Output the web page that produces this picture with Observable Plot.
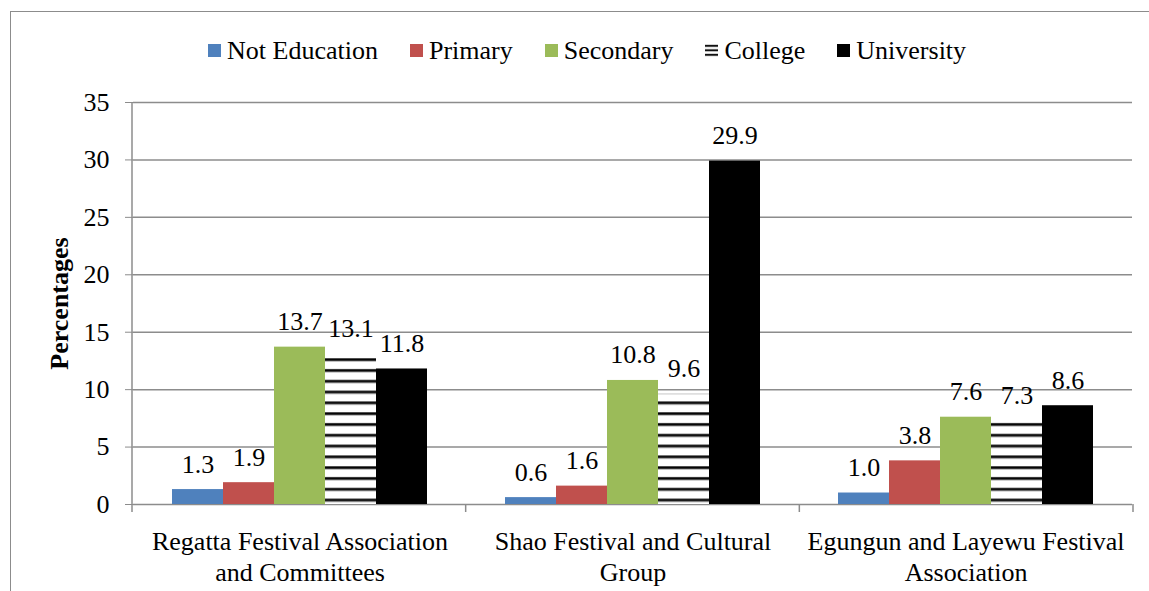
<!DOCTYPE html>
<html>
<head>
<meta charset="utf-8">
<script src="https://cdn.jsdelivr.net/npm/d3@7"></script>
<script src="https://cdn.jsdelivr.net/npm/@observablehq/plot@0.6"></script>
<style>
  html, body { margin: 0; padding: 0; background: #fff; width: 1149px; height: 591px; overflow: hidden; }
  #chart { position: relative; width: 1149px; height: 591px; }
  #border { position: absolute; left: 10px; top: 11px; width: 1300px; height: 800px;
            border-left: 1.5px solid #8c8c8c; border-top: 1.5px solid #8c8c8c; }
  #key { position: absolute; left: 208px; top: 38px; display: flex;
         font-family: "Liberation Serif", "Times New Roman", serif; font-size: 26px; line-height: 26px; color: #000; }
  .key-item { display: flex; align-items: center; margin-right: 32px; height: 26px; }
  .key-item svg { margin-right: 6px; margin-top: -2px; }
  #chart > svg { position: absolute; left: 0; top: 0; }
  .edu-chart text { font-family: "Liberation Serif", "Times New Roman", serif; }
  .edu-chart g[aria-label="y-axis tick"] { color: #8c8c8c; }
  .edu-chart .tick line { stroke: #8c8c8c; }
</style>
</head>
<body>
<div id="chart"><div id="border"></div><div id="key"></div></div>
<script>
const FONT = '"Liberation Serif", "Times New Roman", serif';

// Groups along the x axis (line breaks as printed under the axis)
const categories = [
  "Regatta Festival Association\nand Committees",
  "Shao Festival and Cultural\nGroup",
  "Egungun and Layewu Festival\nAssociation"
];

// Education levels
const series = ["Not Education", "Primary", "Secondary", "College", "University"];

// Percentages per education level, one value per group
const notEducation = [1.3, 0.6, 1.0];
const primary      = [1.9, 1.6, 3.8];
const secondary    = [13.7, 10.8, 7.6];
const college      = [13.1, 9.6, 7.3];
const university   = [11.8, 29.9, 8.6];

const yTicks = [0, 5, 10, 15, 20, 25, 30, 35];
const yTitle = "Percentages";

const seriesColors = ["#4F81BD", "#C0504D", "#9BBB59", "url(#college-stripes)", "#000000"];

const seriesValues = [notEducation, primary, secondary, college, university];
const rows = categories.flatMap((c, i) =>
  series.map((s, j) => ({category: c, series: s, value: seriesValues[j][i]}))
);

const chart = Plot.plot({
  className: "edu-chart",
  width: 1149,
  height: 591,
  marginLeft: 132,
  marginRight: 16,
  marginTop: 102,
  marginBottom: 87,
  style: {fontFamily: FONT, fontSize: "26px", color: "#000", background: "transparent", overflow: "visible"},
  fx: {domain: categories, padding: 0, axis: null, label: null},
  x: {domain: series, paddingInner: 0, paddingOuter: 0.733, axis: null, label: null},
  y: {domain: [0, 35], ticks: 7, tickSize: 8, tickPadding: 16, label: null},
  color: {domain: series, range: seriesColors},
  marks: [
    Plot.ruleY(yTicks, {stroke: "#8c8c8c", strokeWidth: 1.5}),
    Plot.barY(rows, {fx: "category", x: "series", y: "value", fill: "series"}),
    Plot.text(rows, {
      fx: "category", x: "series", y: "value",
      text: d => d.value.toFixed(1),
      lineAnchor: "bottom", dy: -17, fill: "#000"
    }),
    Plot.text(categories, {
      fx: d => d, frameAnchor: "bottom", lineAnchor: "top",
      dy: 23.5, lineHeight: 1.2, text: d => d, fill: "#000"
    }),
    Plot.text([categories[0]], {
      fx: d => d, frameAnchor: "left", textAnchor: "middle", lineAnchor: "middle",
      rotate: -90, dx: -74,
      text: () => yTitle, fontWeight: "bold", fill: "#000"
    })
  ]
});

document.getElementById("chart").appendChild(chart);

// Scales used for the axis line, group separators and stripe alignment
const yOpts = chart.scale("y");
const yScale = d3.scaleLinear(yOpts.domain, yOpts.range);
const fxOpts = chart.scale("fx");
const fxScale = d3.scaleBand(fxOpts.domain, fxOpts.range);
const y0 = yScale(0);

const svg = d3.select(chart);

// Horizontal stripes for the College bars, aligned to the baseline
const defs = svg.insert("defs", ":first-child");
const stripePeriod = 10.8;
const pat = defs.append("pattern")
  .attr("id", "college-stripes")
  .attr("patternUnits", "userSpaceOnUse")
  .attr("width", 10)
  .attr("height", stripePeriod)
  .attr("y", y0 - 5.5);
pat.append("rect").attr("width", 10).attr("height", stripePeriod).attr("fill", "#fff");
pat.append("rect").attr("y", -0.5).attr("width", 10).attr("height", 4).attr("fill", "#9a9a9a");
pat.append("rect").attr("y", 0.4).attr("width", 10).attr("height", 2.2).attr("fill", "#000");

// Y axis line and tick marks below the category axis at group edges
const axisG = svg.append("g").attr("stroke", "#8c8c8c").attr("stroke-width", 1.5);
const xLeft = fxScale.range()[0];
axisG.append("line")
  .attr("x1", xLeft).attr("x2", xLeft)
  .attr("y1", yScale(yTicks[yTicks.length - 1])).attr("y2", y0);
const edges = fxScale.domain().map(d => fxScale(d)).concat([fxScale.range()[1]]);
edges.forEach(e => {
  axisG.append("line").attr("x1", e).attr("x2", e).attr("y1", y0).attr("y2", y0 + 8);
});

// Legend built from the plot's color scale
const colorOpts = chart.scale("color");
const key = d3.select("#key");
colorOpts.domain.forEach((name, i) => {
  const fill = colorOpts.range[i];
  const item = key.append("div").attr("class", "key-item");
  const sw = item.append("svg").attr("width", 13).attr("height", 13);
  if (String(fill).startsWith("url")) {
    const kp = sw.append("defs").append("pattern")
      .attr("id", "college-key").attr("patternUnits", "userSpaceOnUse")
      .attr("width", 13).attr("height", 4.5);
    kp.append("rect").attr("width", 13).attr("height", 4.5).attr("fill", "#fff");
    kp.append("rect").attr("y", 0.6).attr("width", 13).attr("height", 2.4).attr("fill", "#9a9a9a");
    kp.append("rect").attr("y", 1).attr("width", 13).attr("height", 1.6).attr("fill", "#000");
    sw.append("rect").attr("width", 13).attr("height", 13).attr("fill", "url(#college-key)");
  } else {
    sw.append("rect").attr("width", 13).attr("height", 13).attr("fill", fill);
  }
  item.append("span").text(name);
});
</script>
</body>
</html>
